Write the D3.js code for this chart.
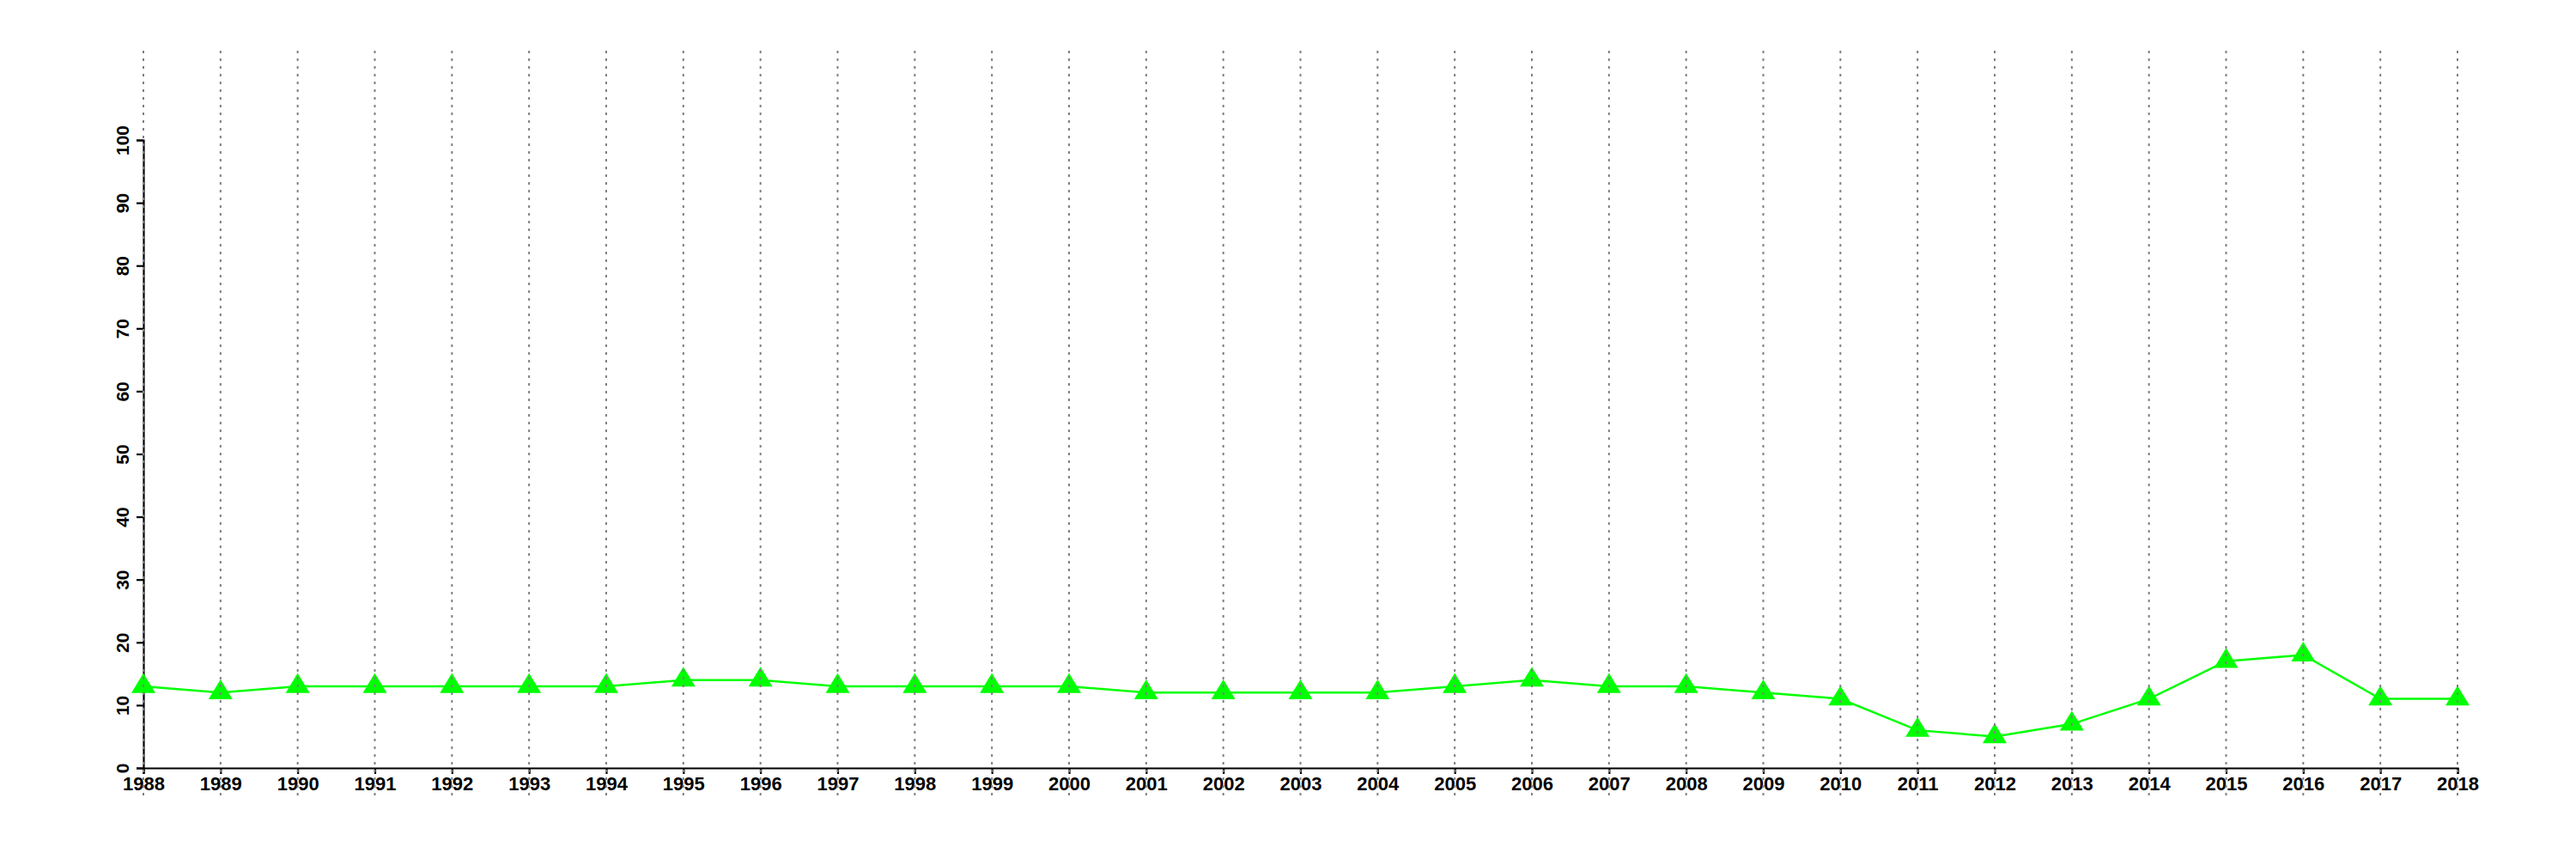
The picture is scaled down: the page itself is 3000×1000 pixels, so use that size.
<!DOCTYPE html>
<html><head><meta charset="utf-8">
<script src="https://cdn.jsdelivr.net/npm/d3@7"></script>
<style>html,body{margin:0;padding:0;background:#fff;}</style>
</head><body>
<svg id="c" width="3000" height="1000"></svg>
<script>
const years = [1988,1989,1990,1991,1992,1993,1994,1995,1996,1997,1998,1999,2000,2001,2002,2003,2004,2005,2006,2007,2008,2009,2010,2011,2012,2013,2014,2015,2016,2017,2018];
const values = [13,12,13,13,13,13,13,14,14,13,13,13,13,12,12,12,12,13,14,13,13,12,11,6,5,7,11,17,18,11,11];
const yTicks = [0,10,20,30,40,50,60,70,80,90,100];

const svg = d3.select("#c");
const x = d3.scaleLinear().domain([1988,2018]).range([167,2862]);
const y = d3.scaleLinear().domain([0,100]).range([894,163]);
const font = "'Liberation Sans', Arial, Helvetica, sans-serif";

// x axis
const xa = svg.append("g").attr("transform","translate(0,894)")
  .call(d3.axisBottom(x).tickValues(years).tickFormat(d3.format("d")).tickSizeOuter(0).tickSize(7).tickPadding(3));
xa.select(".domain").attr("stroke","#000").attr("stroke-width",2.2);
xa.selectAll(".tick line").attr("stroke","#000").attr("stroke-width",2.2);
xa.selectAll(".tick text").attr("font-family",font).attr("font-weight","bold").attr("font-size",22).attr("fill","#000")
  .attr("dy",null).attr("y",26);

// y axis
const ya = svg.append("g").attr("transform","translate(167,0)")
  .call(d3.axisLeft(y).tickValues(yTicks).tickSizeOuter(0).tickSize(8));
ya.select(".domain").attr("stroke","#000").attr("stroke-width",2.2);
ya.selectAll(".tick line").attr("stroke","#000").attr("stroke-width",2.2);
ya.selectAll(".tick text").attr("font-family",font).attr("font-weight","bold").attr("font-size",21).attr("fill","#000")
  .attr("x",null).attr("dy",null).attr("text-anchor","middle")
  .attr("transform","translate(-17,0) rotate(-90)");

// line
const line = d3.line().x((d,i)=>x(years[i])).y(d=>y(d));
svg.append("path").datum(values).attr("d",line).attr("fill","none").attr("stroke","#00ff00").attr("stroke-width",2.5);

// triangles (centroid at data point)
const tri = d3.symbol().type(d3.symbolTriangle).size(340);
svg.append("g").selectAll("path").data(values).join("path")
  .attr("d",tri)
  .attr("transform",(d,i)=>`translate(${x(years[i])},${y(d)}) scale(1.0,0.95)`)
  .attr("fill","#00ff00");

// dotted vertical gridlines (drawn last)
svg.append("g").selectAll("line").data(years).join("line")
  .attr("x1",d=>x(d)).attr("x2",d=>x(d))
  .attr("y1",59).attr("y2",928)
  .attr("stroke","#808080").attr("stroke-width",2).attr("stroke-dasharray","3,6");
</script>
</body></html>
